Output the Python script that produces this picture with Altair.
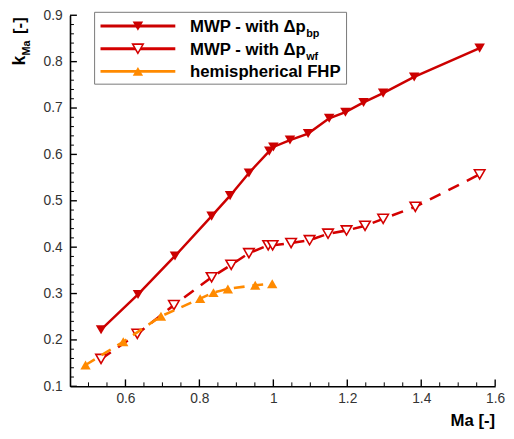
import altair as alt
import pandas as pd

# ---------------- data ----------------
bp_ma = [0.534, 0.634, 0.734, 0.833, 0.883, 0.934, 0.989, 1.000, 1.045, 1.094,
         1.151, 1.195, 1.244, 1.297, 1.381, 1.558]
bp_k = [0.222, 0.298, 0.381, 0.467, 0.511, 0.560, 0.607, 0.616, 0.631, 0.645,
        0.678, 0.691, 0.712, 0.732, 0.767, 0.829]

wf_ma = [0.534, 0.632, 0.731, 0.833, 0.886, 0.934, 0.986, 0.998, 1.048, 1.098,
         1.148, 1.198, 1.248, 1.297, 1.384, 1.558]
wf_k = [0.159, 0.213, 0.275, 0.335, 0.362, 0.387, 0.404, 0.404, 0.409, 0.415,
        0.429, 0.436, 0.446, 0.461, 0.487, 0.557]

fhp_ma = [0.492, 0.594, 0.696, 0.802, 0.838, 0.877, 0.951, 0.997]
fhp_k = [0.146, 0.196, 0.251, 0.289, 0.302, 0.310, 0.318, 0.321]

x_major = [0.6, 0.8, 1.0, 1.2, 1.4, 1.6]
x_minor = [0.5, 0.55, 0.65, 0.7, 0.75, 0.85, 0.9, 0.95, 1.05, 1.1, 1.15,
           1.25, 1.3, 1.35, 1.45, 1.5, 1.55]
y_major = [0.1, 0.2, 0.3, 0.4, 0.5, 0.6, 0.7, 0.8, 0.9]
y_minor = [round(0.1 + 0.02 * i, 2) for i in range(41) if i % 5 != 0]

legend_labels = ["MWP - with \u0394p", "MWP - with \u0394p", "hemispherical FHP"]
legend_subs = ["bp", "wf", ""]

# ---------------- styling ----------------
W, H = 432, 377
C_BP = "#cc0000"
C_WF = "#d40000"
C_FHP = "#ff8a00"
FONT = "Liberation Sans"

xs = alt.Scale(domain=[0.45, 1.6], nice=False, zero=False)
ys = alt.Scale(domain=[0.1, 0.9], nice=False, zero=False)
x_axis = alt.Axis(values=x_major, format="~g", ticks=False, tickSize=0, labelPadding=5,
                  domainColor="black", domainWidth=1.6, grid=False, title=None,
                  labelFontSize=14, labelFont=FONT, labelColor="#333333",
                  labelFlush=False)
y_axis = alt.Axis(values=y_major, format=".1f", ticks=False, tickSize=0, labelPadding=8,
                  domainColor="black", domainWidth=1.6, grid=False, title=None,
                  labelFontSize=14, labelFont=FONT, labelColor="#333333",
                  labelFlush=False)
X = alt.X("x:Q", scale=xs, axis=x_axis)
Y = alt.Y("y:Q", scale=ys, axis=y_axis)

df_bp = pd.DataFrame({"x": bp_ma, "y": bp_k})
df_wf = pd.DataFrame({"x": wf_ma, "y": wf_k})
df_fhp = pd.DataFrame({"x": fhp_ma, "y": fhp_k})

line_bp = alt.Chart(df_bp).mark_line(color=C_BP, strokeWidth=2.5).encode(x=X, y=Y)
pt_bp = alt.Chart(df_bp).mark_point(shape="triangle-down", filled=True, size=115,
                                    color=C_BP, opacity=1).encode(x=X, y=Y)

line_wf = alt.Chart(df_wf).mark_line(color=C_WF, strokeWidth=2.6,
                                     strokeDash=[12, 9]).encode(x=X, y=Y)
pt_wf = alt.Chart(df_wf).mark_point(shape="triangle-down", filled=True, size=115,
                                    fill="white", stroke=C_WF, strokeWidth=1.6,
                                    opacity=1).encode(x=X, y=Y)

line_fhp = alt.Chart(df_fhp).mark_line(color=C_FHP, strokeWidth=2.6,
                                       strokeDash=[11, 8]).encode(x=X, y=Y)
pt_fhp = alt.Chart(df_fhp).mark_point(shape="triangle-up", filled=True, size=110,
                                      color=C_FHP, opacity=1).encode(x=X, y=Y)

# inward ticks
tx_maj = alt.Chart(pd.DataFrame({"x": x_major})).mark_rule(color="black", strokeWidth=1.4).encode(
    x=X, y=alt.value(H), y2=alt.value(H - 7))
tx_min = alt.Chart(pd.DataFrame({"x": x_minor})).mark_rule(color="black", strokeWidth=1).encode(
    x=X, y=alt.value(H), y2=alt.value(H - 4))
ty_maj = alt.Chart(pd.DataFrame({"y": y_major})).mark_rule(color="black", strokeWidth=1.4).encode(
    y=Y, x=alt.value(0), x2=alt.value(7))
ty_min = alt.Chart(pd.DataFrame({"y": y_minor})).mark_rule(color="black", strokeWidth=1).encode(
    y=Y, x=alt.value(0), x2=alt.value(4))

# ---------------- manual legend ----------------
one = pd.DataFrame({"a": [0]})
box = alt.Chart(one).mark_rect(fill="white", stroke="#777777", strokeWidth=1).encode(
    x=alt.value(25), x2=alt.value(281), y=alt.value(-3), y2=alt.value(70))

row_y = [11, 34, 57]
base_y = [17, 40, 63]
leg_colors = [C_BP, C_WF, C_FHP]
legend_layers = [box]
for i in range(3):
    legend_layers.append(
        alt.Chart(one).mark_rule(color=leg_colors[i], strokeWidth=3).encode(
            x=alt.value(31), x2=alt.value(107), y=alt.value(row_y[i])))
pt_common = dict(opacity=1)
legend_layers.append(alt.Chart(one).mark_point(shape="triangle-down", filled=True, size=115,
                                               color=C_BP, **pt_common).encode(
    x=alt.value(69), y=alt.value(row_y[0])))
legend_layers.append(alt.Chart(one).mark_point(shape="triangle-down", filled=True, size=115,
                                               fill="white", stroke=C_WF, strokeWidth=1.6,
                                               **pt_common).encode(
    x=alt.value(69), y=alt.value(row_y[1])))
legend_layers.append(alt.Chart(one).mark_point(shape="triangle-up", filled=True, size=110,
                                               color=C_FHP, **pt_common).encode(
    x=alt.value(69), y=alt.value(row_y[2])))
for i in range(3):
    legend_layers.append(
        alt.Chart(one).mark_text(text=legend_labels[i], font=FONT, fontSize=17, fontWeight="bold",
                                 align="left", baseline="alphabetic", color="black").encode(
            x=alt.value(122), y=alt.value(base_y[i])))
    if legend_subs[i]:
        legend_layers.append(
            alt.Chart(one).mark_text(text=legend_subs[i], font=FONT, fontSize=11, fontWeight="bold",
                                     align="left", baseline="alphabetic", color="black").encode(
                x=alt.value(240), y=alt.value(base_y[i] + 5)))

# ---------------- axis titles ----------------
xt = alt.Chart(one).mark_text(text="Ma [-]", font=FONT, fontSize=17, fontWeight="bold",
                              align="right", baseline="alphabetic", color="black").encode(
    x=alt.value(W), y=alt.value(417))
yt_k = alt.Chart(one).mark_text(text="k", font=FONT, fontSize=18, fontWeight="bold", angle=270,
                                align="left", baseline="alphabetic", color="black").encode(
    x=alt.value(-46), y=alt.value(51))
yt_sub = alt.Chart(one).mark_text(text="Ma", font=FONT, fontSize=11, fontWeight="bold", angle=270,
                                  align="left", baseline="alphabetic", color="black").encode(
    x=alt.value(-41), y=alt.value(41))
yt_unit = alt.Chart(one).mark_text(text="[-]", font=FONT, fontSize=17, fontWeight="bold", angle=270,
                                   align="left", baseline="alphabetic", color="black").encode(
    x=alt.value(-46), y=alt.value(19))

chart = alt.layer(
    tx_min, tx_maj, ty_min, ty_maj,
    line_bp, pt_bp, line_wf, pt_wf, line_fhp, pt_fhp,
    *legend_layers, xt, yt_k, yt_sub, yt_unit
).properties(
    width=W, height=H,
    padding={"left": 63, "top": 4, "right": 11, "bottom": 40},
    autosize="none",
    background="white",
).configure_view(stroke=None)

chart.save("out.html", embed_options={"renderer": "svg", "actions": False})
